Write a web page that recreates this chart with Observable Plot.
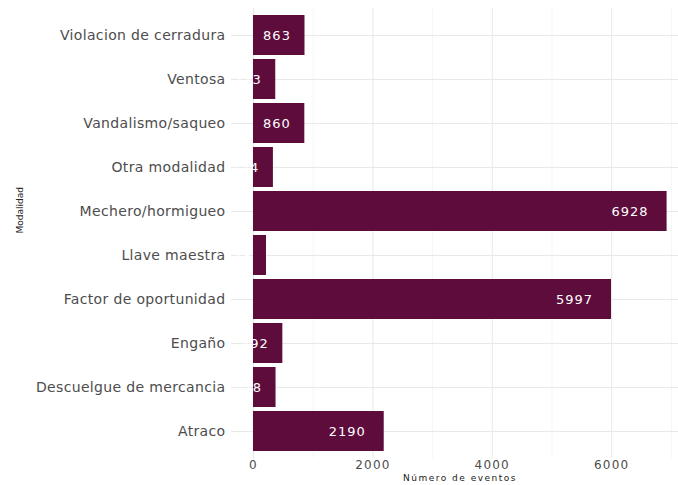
<!DOCTYPE html>
<html>
<head>
<meta charset="utf-8">
<script src="https://cdn.jsdelivr.net/npm/d3@7"></script>
<script src="https://cdn.jsdelivr.net/npm/@observablehq/plot@0.6"></script>
<style>
  html, body { margin: 0; padding: 0; background: #fff; }
</style>
</head>
<body>
<div id="chart"></div>
<script>
const categories = [
  "Violacion de cerradura",
  "Ventosa",
  "Vandalismo/saqueo",
  "Otra modalidad",
  "Mechero/hormigueo",
  "Llave maestra",
  "Factor de oportunidad",
  "Engaño",
  "Descuelgue de mercancia",
  "Atraco"
];
const values = [863, 373, 860, 334, 6928, 218, 5997, 492, 378, 2190];
const majorTicks = [0, 2000, 4000, 6000];
const minorTicks = [1000, 3000, 5000, 7000];
const xTitle = "Número de eventos";
const yTitle = "Modalidad";

const data = categories.map((c, i) => ({ cat: c, value: values[i] }));
const font = "DejaVu Sans, Liberation Sans, sans-serif";
const barColor = "#5e0c3c";

const chart = Plot.plot({
  width: 678,
  height: 485,
  marginLeft: 231,
  marginRight: 0,
  marginTop: 8,
  marginBottom: 27,
  style: { fontFamily: font, background: "#fff" },
  x: { domain: [-368, 7119] },
  y: { domain: categories, padding: 0.1 },
  marks: [
    Plot.gridX(minorTicks, { stroke: "#f0f0f0", strokeOpacity: 1, strokeWidth: 0.6 }),
    Plot.gridX(majorTicks, { stroke: "#e8e8e8", strokeOpacity: 1, strokeWidth: 1 }),
    Plot.gridY(categories, { stroke: "#e8e8e8", strokeOpacity: 1, strokeWidth: 1 }),
    Plot.barX(data, { x: "value", y: "cat", fill: barColor }),
    Plot.text(data.filter(d => String(d.value).length === 3), {
      x: "value", y: "cat", text: d => String(d.value),
      fill: "white", fontSize: 13, textAnchor: "middle", dx: -28, className: "vlab"
    }),
    Plot.text(data.filter(d => String(d.value).length === 4), {
      x: "value", y: "cat", text: d => String(d.value),
      fill: "white", fontSize: 13, textAnchor: "middle", dx: -37, className: "vlab"
    }),
    Plot.axisY({ tickSize: 0, tickPadding: 6, fontSize: 14, color: "#4d4d4d", label: null }),
    Plot.axisX(majorTicks, { tickSize: 0, tickPadding: 2, fontSize: 12, color: "#4d4d4d", label: null, tickFormat: d => String(d) }),
    Plot.text([xTitle], { frameAnchor: "bottom", dy: 22, dx: 5, fontSize: 9, fill: "#222", className: "xtitle" }),
    Plot.text([yTitle], { frameAnchor: "left", rotate: -90, dx: -211, fontSize: 9, fill: "#222" })
  ]
});
const svg = d3.select(chart);
svg.selectAll('g[aria-label="y-axis tick label"] text').attr("letter-spacing", "0.35px");
svg.selectAll('g[aria-label="x-axis tick label"] text').attr("letter-spacing", "1.2px");
svg.selectAll('.vlab text').attr("letter-spacing", "1px");
svg.selectAll('.xtitle text').attr("letter-spacing", "1.5px");
document.getElementById("chart").appendChild(chart);
</script>
</body>
</html>
